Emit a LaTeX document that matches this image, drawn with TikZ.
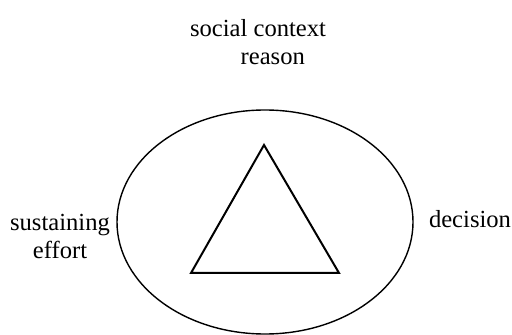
\documentclass[tikz,border=0pt]{standalone}
\usepackage{fontspec}
\setmainfont{Liberation Serif}
\begin{document}
\begin{tikzpicture}[x=0.5pt, y=-0.5pt,
  label/.style={font=\fontsize{12.3}{14}\selectfont, align=center, inner sep=0pt}]
  \useasboundingbox (0,0) rectangle (512,335);
  \draw[line width=0.7pt] (265,222) ellipse [x radius=148, y radius=112];
  \draw[line width=1pt, line join=miter] (264,145) -- (339,273) -- (191,273) -- cycle;
  \node[label] (top) at (258,42) {social context\\\hspace*{1.2em}reason};
  \node[label] (left) at (60,236) {sustaining\\effort};
  \node[label] (right) at (470,219) {decision};
\end{tikzpicture}
\end{document}
